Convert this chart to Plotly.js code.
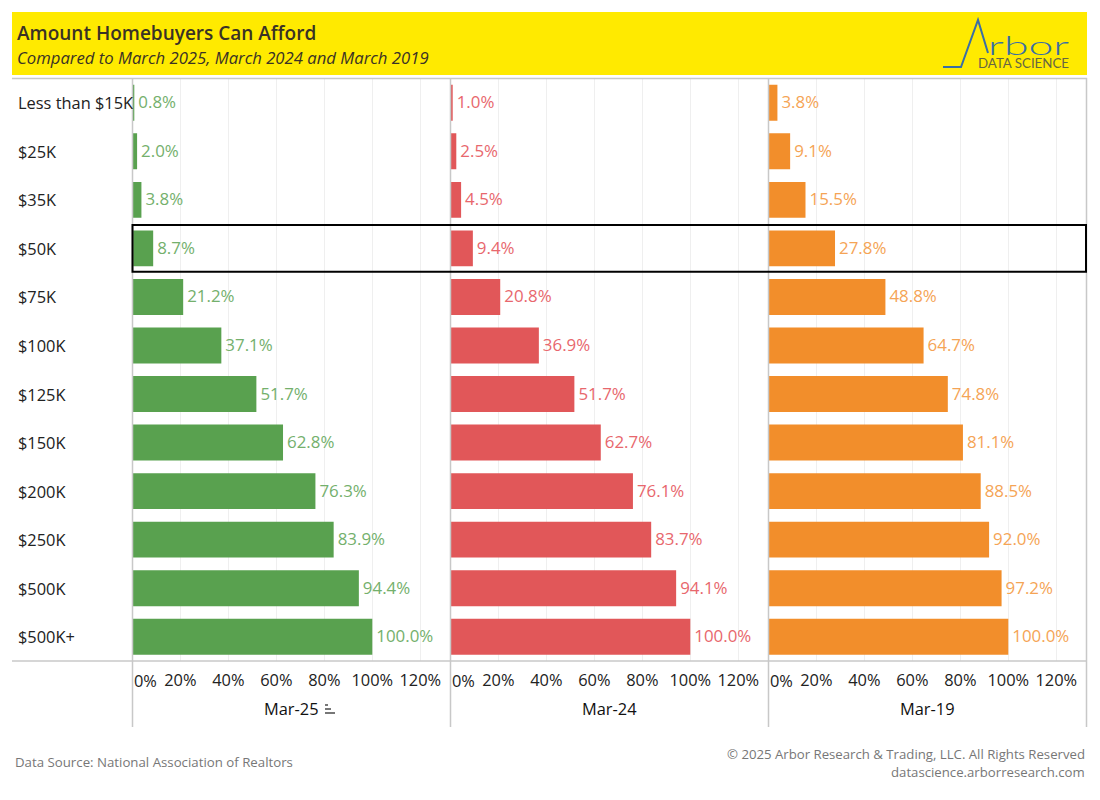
<!DOCTYPE html>
<html><head><meta charset="utf-8">
<script src="https://cdn.plot.ly/plotly-3.0.1.min.js"></script>
<style>html,body{margin:0;padding:0;background:#fff}</style></head>
<body><div id="chart" style="width:1100px;height:800px"></div>
<script>
const FONT = '"Open Sans", Lato, sans-serif';
const categories = ['Less than $15K','$25K','$35K','$50K','$75K','$100K','$125K','$150K','$200K','$250K','$500K','$500K+'];
const mar25 = [0.8,2.0,3.8,8.7,21.2,37.1,51.7,62.8,76.3,83.9,94.4,100.0];
const mar24 = [1.0,2.5,4.5,9.4,20.8,36.9,51.7,62.7,76.1,83.7,94.1,100.0];
const mar19 = [3.8,9.1,15.5,27.8,48.8,64.7,74.8,81.1,88.5,92.0,97.2,100.0];
const seriesNames = ['Mar-25','Mar-24','Mar-19'];
const seriesValues = [mar25,mar24,mar19];
const barColors = ['#59a14f','#e15759','#f28e2b'];
const labelColors = ['#74b06c','#e8676d','#f5a455'];
const tickValues = [20,40,60,80,100,120];
const tickLabels = ['20%','40%','60%','80%','100%','120%'];

const W=1100,H=800;
const px=x=>x/W, py=y=>1-y/H;
const panelL=[132.3,450.3,768.3], panelR=[450.3,768.3,1086.3];
const plotTop=78.5,plotBottom=661;
const pxPerPct=2.4;
const BASE=16.4;

const data=seriesValues.map((v,i)=>({
  type:'bar',orientation:'h',name:seriesNames[i],
  x:v,y:categories,
  xaxis:i?'x'+(i+1):'x',yaxis:'y',
  marker:{color:barColors[i]},
  text:v.map(d=>d.toFixed(1)+'%'),
  textposition:'outside',cliponaxis:false,constraintext:'none',
  textfont:{family:FONT,size:16.9,color:labelColors[i]},
  hoverinfo:'y+text',showlegend:false
}));

const layout={
  width:W,height:H,autosize:false,
  margin:{l:0,r:0,t:0,b:0},
  paper_bgcolor:'#fff',plot_bgcolor:'rgba(0,0,0,0)',
  bargap:0.26,showlegend:false,
  font:{family:FONT,color:'#222'},
  yaxis:{domain:[py(plotBottom),py(plotTop)],type:'category',categoryorder:'array',categoryarray:categories,
    range:[11.5,-0.5],showticklabels:false,ticks:'',showgrid:false,zeroline:false,showline:false,anchor:'x'},
  shapes:[],annotations:[]
};
seriesNames.forEach((n,i)=>{
  const key=i?'xaxis'+(i+1):'xaxis';
  layout[key]={
    domain:[px(panelL[i]),px(panelR[i])],
    range:[0,(panelR[i]-panelL[i])/pxPerPct],
    anchor:'y',side:'bottom',
    tickmode:'array',tickvals:tickValues,ticktext:tickLabels,
    tickfont:{family:FONT,size:BASE,color:'#222'},
    ticklabelstandoff:8,
    ticks:'',ticklen:0,showgrid:true,gridcolor:'#efefef',gridwidth:1,zeroline:false,showline:false,
    title:{text:n,font:{family:FONT,size:16.4,color:'#111'},standoff:13}
  };
  layout.annotations.push({text:'0%',xref:i?'x'+(i+1):'x',yref:'paper',x:0,y:py(680),xanchor:'left',yanchor:'middle',xshift:0,
    showarrow:false,font:{family:FONT,size:BASE,color:'#222'}});
});
const S=layout.shapes;
const rect=(x0,y0,x1,y1,fill)=>S.push({type:'rect',xref:'paper',yref:'paper',x0:px(x0),x1:px(x1),y0:py(y0),y1:py(y1),fillcolor:fill,line:{width:0},layer:'below'});
const line=(x0,y0,x1,y1,color,w,layer)=>S.push({type:'line',xref:'paper',yref:'paper',x0:px(x0),x1:px(x1),y0:py(y0),y1:py(y1),line:{color:color,width:w},layer:layer||'above'});
rect(12,12,1087,75,'#ffea00');
line(12,78.5,1087,78.5,'#c8c8c8',1.5);
line(12,661,1087,661,'#c8c8c8',1.5);
[132.5,450.5,768.5,1086.5].forEach(x=>line(x,78,x,727,'#c8c8c8',1.5));
// highlighted row
S.push({type:'rect',xref:'paper',yref:'y',x0:px(132.5),x1:px(1086),y0:2.52,y1:3.48,line:{color:'#000',width:2},fillcolor:'rgba(0,0,0,0)',layer:'above'});
// logo glyph
S.push({type:'path',xref:'paper',yref:'paper',
  path:`M ${px(943)} ${py(67)} L ${px(961)} ${py(67)} L ${px(978)} ${py(20)} L ${px(988)} ${py(53)}`,
  line:{color:'#3a6ea5',width:2},fillcolor:'rgba(0,0,0,0)'});
// sort icon
[[705,328],[709,331],[713,335]].forEach(r=>line(325,r[0],r[1],r[0],'#555',1.6));

const ann=(text,x,y,size,color,anchor,family,weight)=>layout.annotations.push({text,xref:'paper',yref:'paper',x:px(x),y:py(y),xanchor:anchor||'left',yanchor:'middle',showarrow:false,font:{family:family||FONT,size,color,weight:weight||400}});
categories.forEach(c=>layout.annotations.push({text:c,xref:'paper',yref:'y',x:px(16),y:c,xanchor:'left',yanchor:'middle',showarrow:false,font:{family:FONT,size:BASE,color:'#222'}}));
ann('Amount Homebuyers Can Afford',15,33,19,'#3a3226','left',FONT,600);
ann('<i>Compared to March 2025, March 2024 and March 2019</i>',15,57,16.7,'#3a3226');
ann('rbor',1028.5,45,26,'#3a6ea5','center','Lato',300);
ann('DATA SCIENCE',976,63,13.3,'#666644','left','Lato');
ann('Data Source: National Association of Realtors',13,762,13.25,'#777');
ann('© 2025 Arbor Research &amp; Trading, LLC. All Rights Reserved',1087,754,13.2,'#777','right');
ann('datascience.arborresearch.com',1087,772,13.2,'#777','right');

Plotly.newPlot('chart',data,layout,{displayModeBar:false,responsive:false}).then(()=>{
  document.querySelectorAll('.annotation-text').forEach(t=>{
    if(t.textContent==='rbor'){t.setAttribute('textLength','81');t.setAttribute('lengthAdjust','spacingAndGlyphs');}
  });
  document.querySelectorAll('.bartext').forEach(t=>{
    t.setAttribute('transform','translate(1,-1) '+(t.getAttribute('transform')||''));
  });
});
</script></body></html>
